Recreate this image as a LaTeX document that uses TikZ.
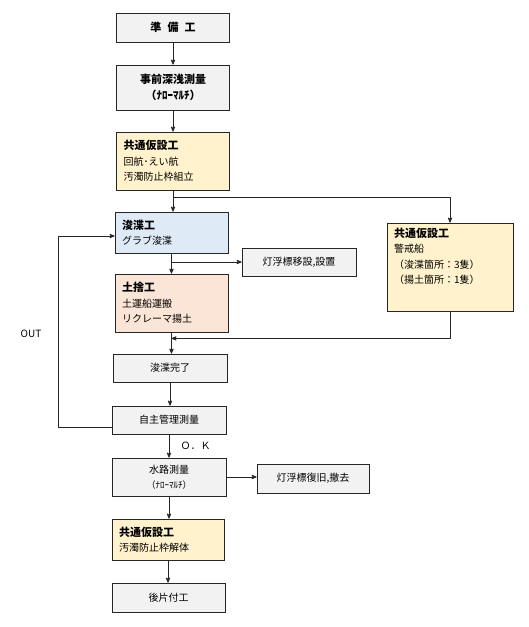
\documentclass[tikz,border=0pt]{standalone}
\usepackage{fontspec}
\setmainfont{Noto Sans CJK JP}
\usetikzlibrary{arrows}
\definecolor{boxgray}{HTML}{F2F2F2}
\definecolor{boxyellow}{HTML}{FFF2CC}
\definecolor{boxblue}{HTML}{DEEBF7}
\definecolor{boxpeach}{HTML}{FBE5D6}
\newcommand{\ttl}[1]{{\fontsize{11}{15.5}\selectfont\bfseries #1}}

\begin{document}
\begin{tikzpicture}[x=1pt,y=-1pt,>=stealth',
	every node/.style={font=\fontsize{10}{15.5}\selectfont},
	box/.style={draw=black!85,line width=0.8pt,minimum width=113pt,inner sep=0pt,fill=boxgray},
	lbox/.style={box,align=left,inner xsep=7pt,text width=99pt},
	flow/.style={->,draw=black!85,line width=0.8pt}]
			\fill[white] (0,0) rectangle (529,627);
			\useasboundingbox (0,0) rectangle (529,627);
			% main column
			\node[box,minimum height=29pt,font=\fontsize{11}{15.5}\selectfont\bfseries] (prep) at (173,27.5) {準\hspace{0.55em}備\hspace{0.55em}工};
			\node[box,minimum height=45pt,align=center,font=\fontsize{11}{16}\selectfont\bfseries] (survey) at (173,87.5) {事前深浅測量\\（ﾅﾛｰﾏﾙﾁ）};
			\node[lbox,minimum height=58pt,fill=boxyellow] (temp1) at (173,161) {\ttl{共通仮設工}\\回航･えい航\\汚濁防止枠組立};
			\node[lbox,minimum height=41pt,fill=boxblue] (dredge) at (171.5,232.5) {\ttl{浚渫工}\\グラブ浚渫};
			\node[lbox,minimum height=58pt,fill=boxpeach] (dump) at (171.5,303) {\ttl{土捨工}\\土運船運搬\\リクレーマ揚土};
			\node[box,minimum width=114pt,minimum height=28pt] (buoy) at (299,262) {灯浮標移設,設置};
			\node[box,minimum width=126pt,minimum height=88pt,inner xsep=7pt,fill=boxyellow] (guard) at (450,267)
				{\parbox[c][78pt][t]{112pt}{\ttl{共通仮設工}\\警戒船\\（浚渫箇所：3隻）\\（揚土箇所：1隻）}};
			\node[box,minimum width=114pt,minimum height=28pt] (done) at (170,368) {浚渫完了};
			\node[box,minimum width=114pt,minimum height=28pt] (check) at (169,420) {自主管理測量};
			\node[box,minimum width=114pt,minimum height=38pt,align=center] (hydro) at (169,477) {水路測量\\{\fontsize{9}{15}\selectfont（ﾅﾛｰﾏﾙﾁ）}};
			\node[box,minimum width=112pt,minimum height=29pt] (restore) at (313,478.5) {灯浮標復旧,撤去};
			\node[lbox,minimum width=112pt,text width=98pt,minimum height=41pt,fill=boxyellow] (temp2) at (168,539.5) {\ttl{共通仮設工}\\汚濁防止枠解体};
			\node[box,minimum height=29pt] (clean) at (168.5,597.5) {後片付工};
			\node (out) at (31,334) {OUT};
			% connectors
			\draw[flow] (prep) -- (survey);
			\draw[flow] (survey) -- (temp1);
			\draw[flow] (temp1.south) -- (temp1.south |- dredge.north);
			\coordinate (split) at ([yshift=-7pt]temp1.south);
			\draw[flow] (split) -| (guard.north);
			\draw[flow] (dredge.south) -- (dredge.south |- dump.north);
			\draw[flow] (dredge.south |- buoy.west) -- (buoy.west);
			\draw[flow] (dump.south) -- (dump.south |- done.north);
			\coordinate (merge) at ([yshift=-6pt]dump.south);
			\draw[flow] (guard.south) |- (merge);
			\draw[flow] (done.south) -- (done.south |- check.north);
			\draw[flow] (check.south) -- (check.south |- hydro.north) node[midway,right=8pt] {Ｏ．Ｋ};
			\draw[flow] (hydro.east) -- (hydro.east -| restore.west);
			\draw[flow] (hydro.south) -- (hydro.south |- temp2.north);
			\draw[flow] (temp2.south) -- (temp2.south |- clean.north);
			\draw[flow] ([yshift=-7pt]check.west) -- ++(-53,0) |- ([yshift=-3.5pt]dredge.west);
		\end{tikzpicture}
\end{document}
